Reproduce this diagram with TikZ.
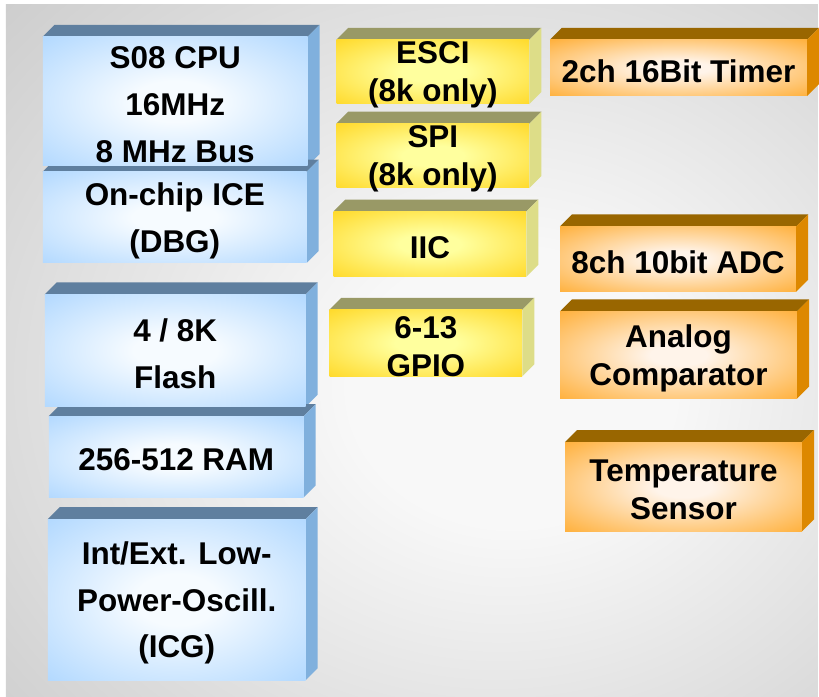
\documentclass[tikz,border=0pt]{standalone}
\usepackage{fontspec}
\setmainfont{Liberation Sans}
\usetikzlibrary{calc}

\definecolor{blueEdge}{HTML}{99CCFF}
\definecolor{blueMid}{HTML}{F6FBFF}
\definecolor{blueTop}{HTML}{5F7F9F}
\definecolor{blueSide}{HTML}{80B0DD}
\definecolor{yelEdge}{HTML}{FFCC00}
\definecolor{yelMid}{HTML}{FFFF9E}
\definecolor{yelTop}{HTML}{999966}
\definecolor{yelSide}{HTML}{DDDD88}
\definecolor{orgEdge}{HTML}{FF9900}
\definecolor{orgMid}{HTML}{FFF4EA}
\definecolor{orgTop}{HTML}{996600}
\definecolor{orgSide}{HTML}{DD8800}
\definecolor{bgIn}{HTML}{F8F8F8}
\definecolor{bgOut}{HTML}{B3B3B3}

\pgfdeclareradialshading{blueglow}{\pgfpoint{0bp}{0bp}}{color(0bp)=(blueMid); color(8bp)=(blueMid); color(46bp)=(blueEdge); color(75bp)=(blueEdge)}
\pgfdeclareradialshading{yelglow}{\pgfpoint{0bp}{0bp}}{color(0bp)=(yelMid); color(8bp)=(yelMid); color(46bp)=(yelEdge); color(75bp)=(yelEdge)}
\pgfdeclareradialshading{orgglow}{\pgfpoint{0bp}{0bp}}{color(0bp)=(orgMid); color(6bp)=(orgMid); color(46bp)=(orgEdge); color(75bp)=(orgEdge)}
\pgfdeclareradialshading{bgglow}{\pgfpoint{7bp}{-3bp}}{color(0bp)=(bgIn); color(10bp)=(bgIn); color(58bp)=(bgOut); color(85bp)=(bgOut)}

\pgfdeclarelayer{bg}
\pgfdeclarelayer{faces}
\pgfsetlayers{bg,faces,main}

% the text sits a little below the middle of its box
\newbox\blktextbox

\begin{document}
\begin{tikzpicture}[
  x=1pt, y=-1pt,
  blk/.style={inner sep=0pt, align=center, text=black,
              font=\bfseries\fontsize{31.5}{38}\selectfont,
              execute at begin node={\setbox\blktextbox=\hbox\bgroup},
              execute at end node={\egroup\rule{0pt}{\dimexpr\ht\blktextbox-\dp\blktextbox+6.5pt\relax}\smash{\box\blktextbox}}},
  cpublk/.style={blk, shading=blueglow,
                 font=\bfseries\fontsize{31.5}{47}\selectfont},
  perblk/.style={blk, shading=yelglow},
  anablk/.style={blk, shading=orgglow}
]
  % background
  \begin{pgfonlayer}{bg}
    \fill[white] (0,0) rectangle (819,698);
    \shade[shading=bgglow] (6,5) rectangle (819,698);
  \end{pgfonlayer}

  % core (left column)
  \node[cpublk, minimum width=265, minimum height=129] (cpu)   at (175.5,101.5) {S08 CPU\\16MHz\\8 MHz Bus};
  \node[cpublk, minimum width=264, minimum height=91]  (ice)   at (175,217.5)   {On-chip ICE\\(DBG)};
  \node[cpublk, minimum width=261, minimum height=112] (flash) at (175.5,351)   {4 / 8K\\Flash};
  \node[cpublk, minimum width=255, minimum height=81]  (ram)   at (176.5,457.5) {256-512 RAM};
  \node[cpublk, minimum width=258, minimum height=161] (icg)   at (177,600.5)   {Int/Ext. Low-\\Power-Oscill.\\(ICG)};

  % serial / digital (middle column)
  \node[perblk, minimum width=193, minimum height=64] (esci) at (433.5,72)  {ESCI\\(8k only)};
  \node[perblk, minimum width=193, minimum height=64] (spi)  at (433.5,156) {SPI\\(8k only)};
  \node[perblk, minimum width=193, minimum height=65] (iic)  at (430.5,244.5) {IIC};
  \node[perblk, minimum width=193, minimum height=65] (gpio) at (426.5,343.5) {6-13\\GPIO};

  % timer / analog (right column)
  \node[anablk, minimum width=257, minimum height=56] (timer) at (679.5,68)    {2ch 16Bit Timer};
  \node[anablk, minimum width=236, minimum height=65] (adc)   at (679,259.5)   {8ch 10bit ADC};
  \node[anablk, minimum width=237, minimum height=87] (comp)  at (679.5,355.5) {Analog\\Comparator};
  \node[anablk, minimum width=237, minimum height=89] (temp)  at (684.5,487.5) {Temperature\\Sensor};

  % top and side faces
  \begin{pgfonlayer}{faces}
    \foreach \n/\col in {cpu/blue, ice/blue, flash/blue, ram/blue, icg/blue,
                         esci/yel, spi/yel, iic/yel, gpio/yel,
                         timer/org, adc/org, comp/org, temp/org} {
      \fill[\col Top] (\n.north west) -- ++(12,-12) -- ($(\n.north east)+(12,-12)$) -- (\n.north east) -- cycle;
      \fill[\col Side] (\n.north east) -- ++(12,-12) -- ($(\n.south east)+(12,-12)$) -- (\n.south east) -- cycle;
    }
  \end{pgfonlayer}

  \useasboundingbox (0,0) rectangle (819,698);
\end{tikzpicture}
\end{document}
